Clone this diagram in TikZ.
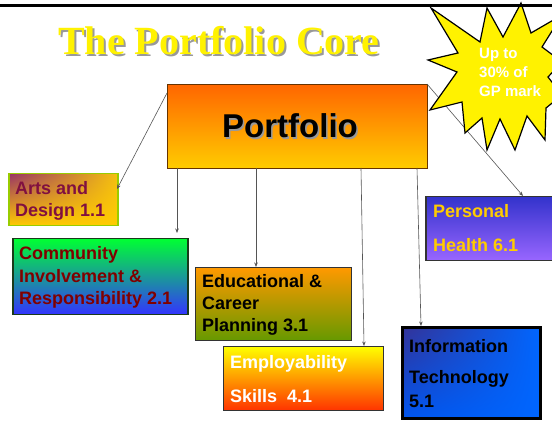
\documentclass[tikz,border=0pt]{standalone}
\usepackage{fontspec}
\setmainfont{Liberation Serif}
\newfontfamily\arialf{Liberation Sans}
\usetikzlibrary{arrows.meta,shadings}
\definecolor{pfTop}{HTML}{FF6600}
\definecolor{pfBot}{HTML}{FFCC00}
\definecolor{pfLine}{HTML}{663300}
\definecolor{artsA}{HTML}{993366}
\definecolor{artsB}{HTML}{FFCC00}
\definecolor{artsB2}{HTML}{F5C010}
\definecolor{artsLine}{HTML}{99CC00}
\definecolor{artsText}{HTML}{801040}
\definecolor{comTop}{HTML}{00FF33}
\definecolor{comBot}{HTML}{3333FF}
\definecolor{comLine}{HTML}{1A3A1A}
\definecolor{comText}{HTML}{800000}
\definecolor{eduTop}{HTML}{FF9900}
\definecolor{eduBot}{HTML}{669900}
\definecolor{empTop}{HTML}{FFFF00}
\definecolor{empBot}{HTML}{FF3300}
\definecolor{itA}{HTML}{333399}
\definecolor{itB}{HTML}{0066FF}
\definecolor{itC}{HTML}{0055EE}
\definecolor{phTop}{HTML}{3333CC}
\definecolor{phBot}{HTML}{9966FF}
\definecolor{phText}{HTML}{FFCC00}
\definecolor{connc}{HTML}{555555}
\definecolor{shadowc}{HTML}{999999}
\newcommand{\shadowtext}[2]{\rlap{\hspace{#1}\raisebox{-#1}{\color{shadowc}#2}}#2}
\begin{document}
\begin{tikzpicture}[x=1pt,y=-1pt,
  box/.style={draw, inner sep=0pt, anchor=north west, line width=1pt},
  lbl/.style={anchor=base west, inner sep=0pt, align=left,
    font=\arialf\bfseries\fontsize{18}{22}\selectfont},
  conn/.style={draw=connc, line width=0.6pt, -{Stealth[length=4.5pt,width=3.5pt]}}]
\useasboundingbox (0,0) rectangle (552,422);
\fill[white] (0,0) rectangle (552,422);
\clip (0,0) rectangle (552,422);

% title
\node[anchor=base, inner sep=0pt, text=yellow, font=\bfseries\fontsize{40}{44}\selectfont] (title) at (219,55) {\shadowtext{2pt}{The Portfolio Core}};

% boxes
\node[box, draw=pfLine, minimum width=260pt, minimum height=84pt, top color=pfTop, bottom color=pfBot] (portfolio) at (167,84) {};
\node[box, draw=artsLine, line width=1.5pt, minimum width=109pt, minimum height=52pt,
  upper left=artsA, upper right=artsB2, lower left=artsB, lower right=artsB] (arts) at (8,173) {};
\node[box, draw=comLine, line width=1.5pt, minimum width=175pt, minimum height=76pt, top color=comTop, bottom color=comBot] (community) at (12,238) {};
\node[box, draw=black!80, minimum width=156pt, minimum height=73pt, top color=eduTop, bottom color=eduBot] (educational) at (195,267) {};
\node[box, draw=black!80, minimum width=160pt, minimum height=64pt, top color=empTop, bottom color=empBot] (employ) at (223,346) {};
\node[box, draw=black, line width=3pt, minimum width=138pt, minimum height=91pt,
  upper left=itA, upper right=itB, lower left=itC, lower right=itB] (it) at (401,326) {};
\node[box, draw=black!80, line width=1.5pt, minimum width=140pt, minimum height=64pt, top color=phTop, bottom color=phBot] (personal) at (425,196) {};

% labels
\node[anchor=base, inner sep=0pt, text=black, font=\arialf\bfseries\fontsize{33}{38}\selectfont] (pftext) at (290,138) {\shadowtext{1.5pt}{Portfolio}};
\node[lbl, text=artsText] (artstext) at (15,217) {Arts and\\Design 1.1};
\node[lbl, text=comText, font=\arialf\bfseries\fontsize{18}{22.5}\selectfont] (comtext) at (19,305) {Community\\Involvement \&\\Responsibility 2.1};
\node[lbl, text=black] (edutext) at (202,332) {Educational \&\\Career\\Planning 3.1};
\node[lbl, text=white] (emptext) at (230,402) {Employability\\[12pt]Skills\ \ 4.1};
\node[lbl, text=black] (ittext) at (409,407) {Information\\[9pt]Technology\\[2pt]5.1};
\node[lbl, text=phText] (phtext) at (433,252) {Personal\\[12pt]Health 6.1};

% connector end points
\coordinate (c1s) at (167,93);  \coordinate (c1e) at (117,189);
\coordinate (c2s) at (177,168); \coordinate (c2e) at (177,233);
\coordinate (c3s) at (256,168); \coordinate (c3e) at (256,267);
\coordinate (c4s) at (361,168); \coordinate (c4e) at (364,346);
\coordinate (c5s) at (417,168); \coordinate (c5e) at (421,326);
\coordinate (c6s) at (427,84);  \coordinate (c6e) at (523,196);
\draw[conn] (c1s) -- (c1e);
\draw[conn] (c2s) -- (c2e);
\draw[conn] (c3s) -- (c3e);
\draw[conn] (c4s) -- (c4e);
\draw[conn] (c5s) -- (c5e);
\draw[conn] (c6s) -- (c6e);

% starburst
\filldraw[fill=yellow, draw=black, line width=1.2pt, line join=miter]
  (431,8) -- (480,42) -- (487,8) -- (503,37) -- (521,3) -- (531,33) -- (562,15) -- (542,47)
  -- (562,62) -- (548,77) -- (562,95) -- (546,108) -- (545,140) -- (527,116) -- (515,150)
  -- (500,119) -- (487,150) -- (482,118) -- (465,133) -- (462,102) -- (430,110) -- (457,72)
  -- (428,60) -- (458,53) -- cycle;
\node[anchor=base west, inner sep=0pt, align=left, text=white,
  font=\arialf\bfseries\fontsize{15}{19}\selectfont] (startext) at (479,97) {Up to\\30\% of\\GP mark};

% top rule
\draw[line width=3pt] (0,5.5) -- (552,5.5);
\end{tikzpicture}
\end{document}
